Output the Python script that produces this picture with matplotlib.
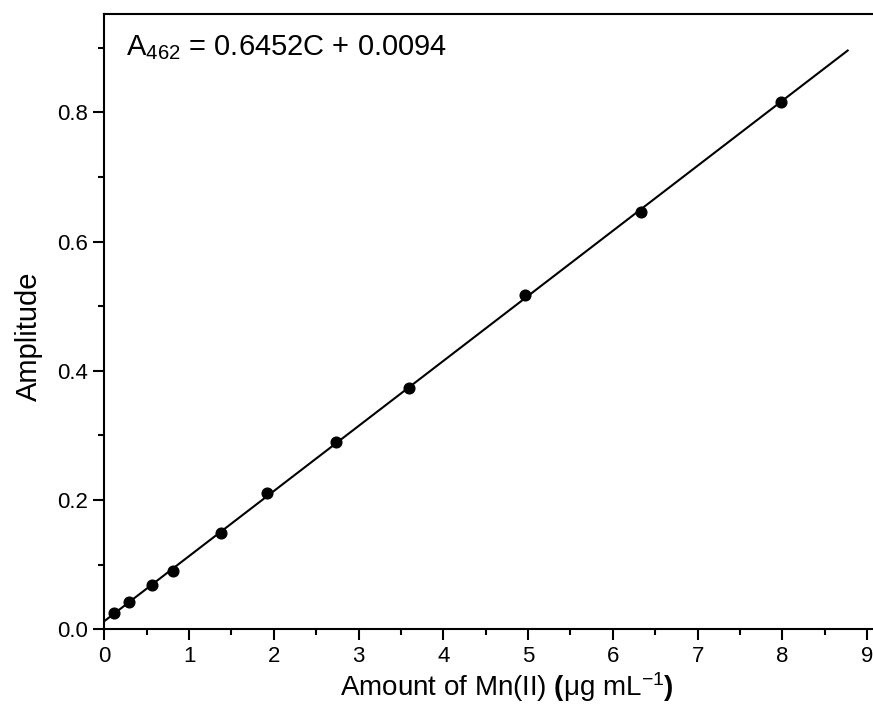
import numpy as np
import matplotlib
matplotlib.use("Agg")
import matplotlib.pyplot as plt
from matplotlib.ticker import MultipleLocator

plt.rcParams['font.family'] = ['Liberation Sans', 'DejaVu Sans']
plt.rcParams['mathtext.fontset'] = 'custom'
plt.rcParams['mathtext.rm'] = 'Liberation Sans'
plt.rcParams['mathtext.it'] = 'Liberation Sans:italic'
plt.rcParams['mathtext.bf'] = 'Liberation Sans:bold'

# Data
conc = [0.115, 0.295, 0.56, 0.815, 1.374, 1.925, 2.732, 3.59, 4.967, 6.333, 7.986]
amplitude = [0.0248, 0.0418, 0.0686, 0.0903, 0.1496, 0.2106, 0.2905, 0.373, 0.5177, 0.6462, 0.8166]
fit_range = [0.0, 8.77]
equation = r'A$_{462}$ = 0.6452C + 0.0094'
x_label = r'Amount of Mn(II) $\mathbf{(}$μg mL$^{-1}$$\mathbf{)}$'
y_label = 'Amplitude'

fig = plt.figure(figsize=(8.73, 7.17), dpi=100)
ax = fig.add_axes([104.3/873, (717-629.3)/717, 1 - 104.3/873 + 0.004, (629.3-14.3)/717])

slope, intercept = np.polyfit(conc, amplitude, 1)
xf = np.array(fit_range)
ax.plot(xf, slope*xf + intercept, color='black', lw=1.5, zorder=2)
ax.plot(conc, amplitude, 'o', color='black', ms=7.7, zorder=3)

ax.set_xlim(0, 9.11)
ax.set_ylim(0, 0.952)
ax.xaxis.set_major_locator(MultipleLocator(1))
ax.xaxis.set_minor_locator(MultipleLocator(0.5))
ax.yaxis.set_major_locator(MultipleLocator(0.2))
ax.yaxis.set_minor_locator(MultipleLocator(0.1))
ax.yaxis.set_major_formatter(matplotlib.ticker.FormatStrFormatter('%.1f'))

for s in ['left', 'bottom', 'top']:
    ax.spines[s].set_linewidth(1.5)
ax.spines['right'].set_visible(False)
ax.tick_params(which='major', direction='out', length=8, width=1.5, labelsize=16, pad=4)
ax.tick_params(which='minor', direction='out', length=4, width=1.5)
ax.tick_params(top=False, right=False, which='both')

ax.set_xlabel(x_label, fontsize=20, labelpad=2)
ax.set_ylabel(y_label, fontsize=21, labelpad=10)
ax.xaxis.label.set_x(0.522)
ax.yaxis.label.set_y(0.477)

ax.text(0.028, 0.97, equation, transform=ax.transAxes, fontsize=21, va='top', ha='left')

fig.savefig('out.png', dpi=100)
